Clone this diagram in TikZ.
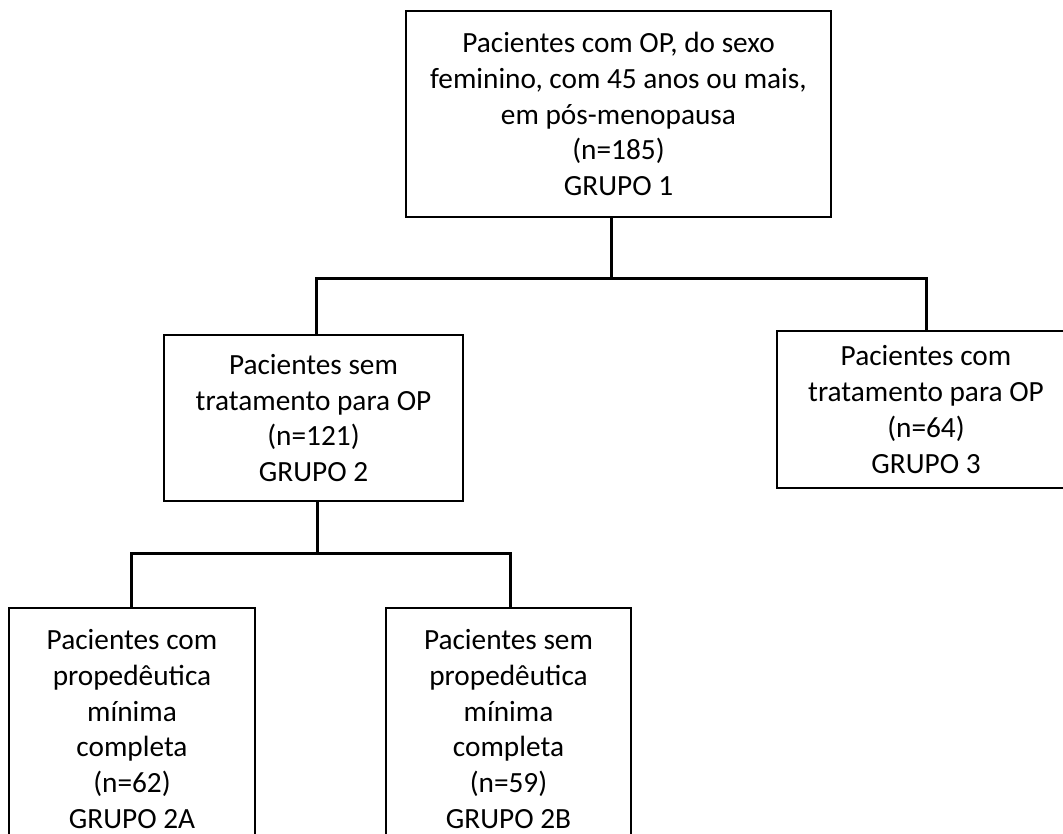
\documentclass[tikz,border=0pt]{standalone}
\usepackage{fontspec}
\setmainfont{Carlito}
\begin{document}
\begin{tikzpicture}[x=1pt,y=-1pt,
  box/.style={draw=black, line width=1.8pt, align=center, inner sep=0pt,
    font=\fontsize{29.3}{35.8}\selectfont},
  conn/.style={line width=3pt}]
\useasboundingbox (0,0) rectangle (1063,834);
\clip (0,0) rectangle (1063,834);
\node[box, minimum width=425pt, minimum height=206pt] (g1) at (618.5,114)
  {Pacientes com OP, do sexo\\feminino, com 45 anos ou mais,\\em pós-menopausa\\(n=185)\\GRUPO 1};
\node[box, minimum width=299pt, minimum height=166pt] (g2) at (313.5,418)
  {Pacientes sem\\tratamento para OP\\(n=121)\\GRUPO 2};
\node[box, minimum width=298pt, minimum height=157pt] (g3) at (926,409.5)
  {Pacientes com\\tratamento para OP\\(n=64)\\GRUPO 3};
\node[box, minimum width=246pt, minimum height=242pt] (g2a) at (132,729)
  {Pacientes com\\propedêutica\\mínima\\completa\\(n=62)\\GRUPO 2A};
\node[box, minimum width=245pt, minimum height=242pt] (g2b) at (508.5,729)
  {Pacientes sem\\propedêutica\\mínima\\completa\\(n=59)\\GRUPO 2B};
\coordinate (j1) at (611,279);
\coordinate (hl) at (316,279);
\coordinate (hr) at (926,279);
\coordinate (j2) at (317,553);
\coordinate (kl) at (131,553);
\coordinate (kr) at (510,553);
\draw[conn] (g1.south -| j1) -- (j1);
\draw[conn] (g2.north -| hl) -- (hl) -- (hr) -- (g3.north -| hr);
\draw[conn] (g2.south -| j2) -- (j2);
\draw[conn] (g2a.north -| kl) -- (kl) -- (kr) -- (g2b.north -| kr);
\end{tikzpicture}
\end{document}
